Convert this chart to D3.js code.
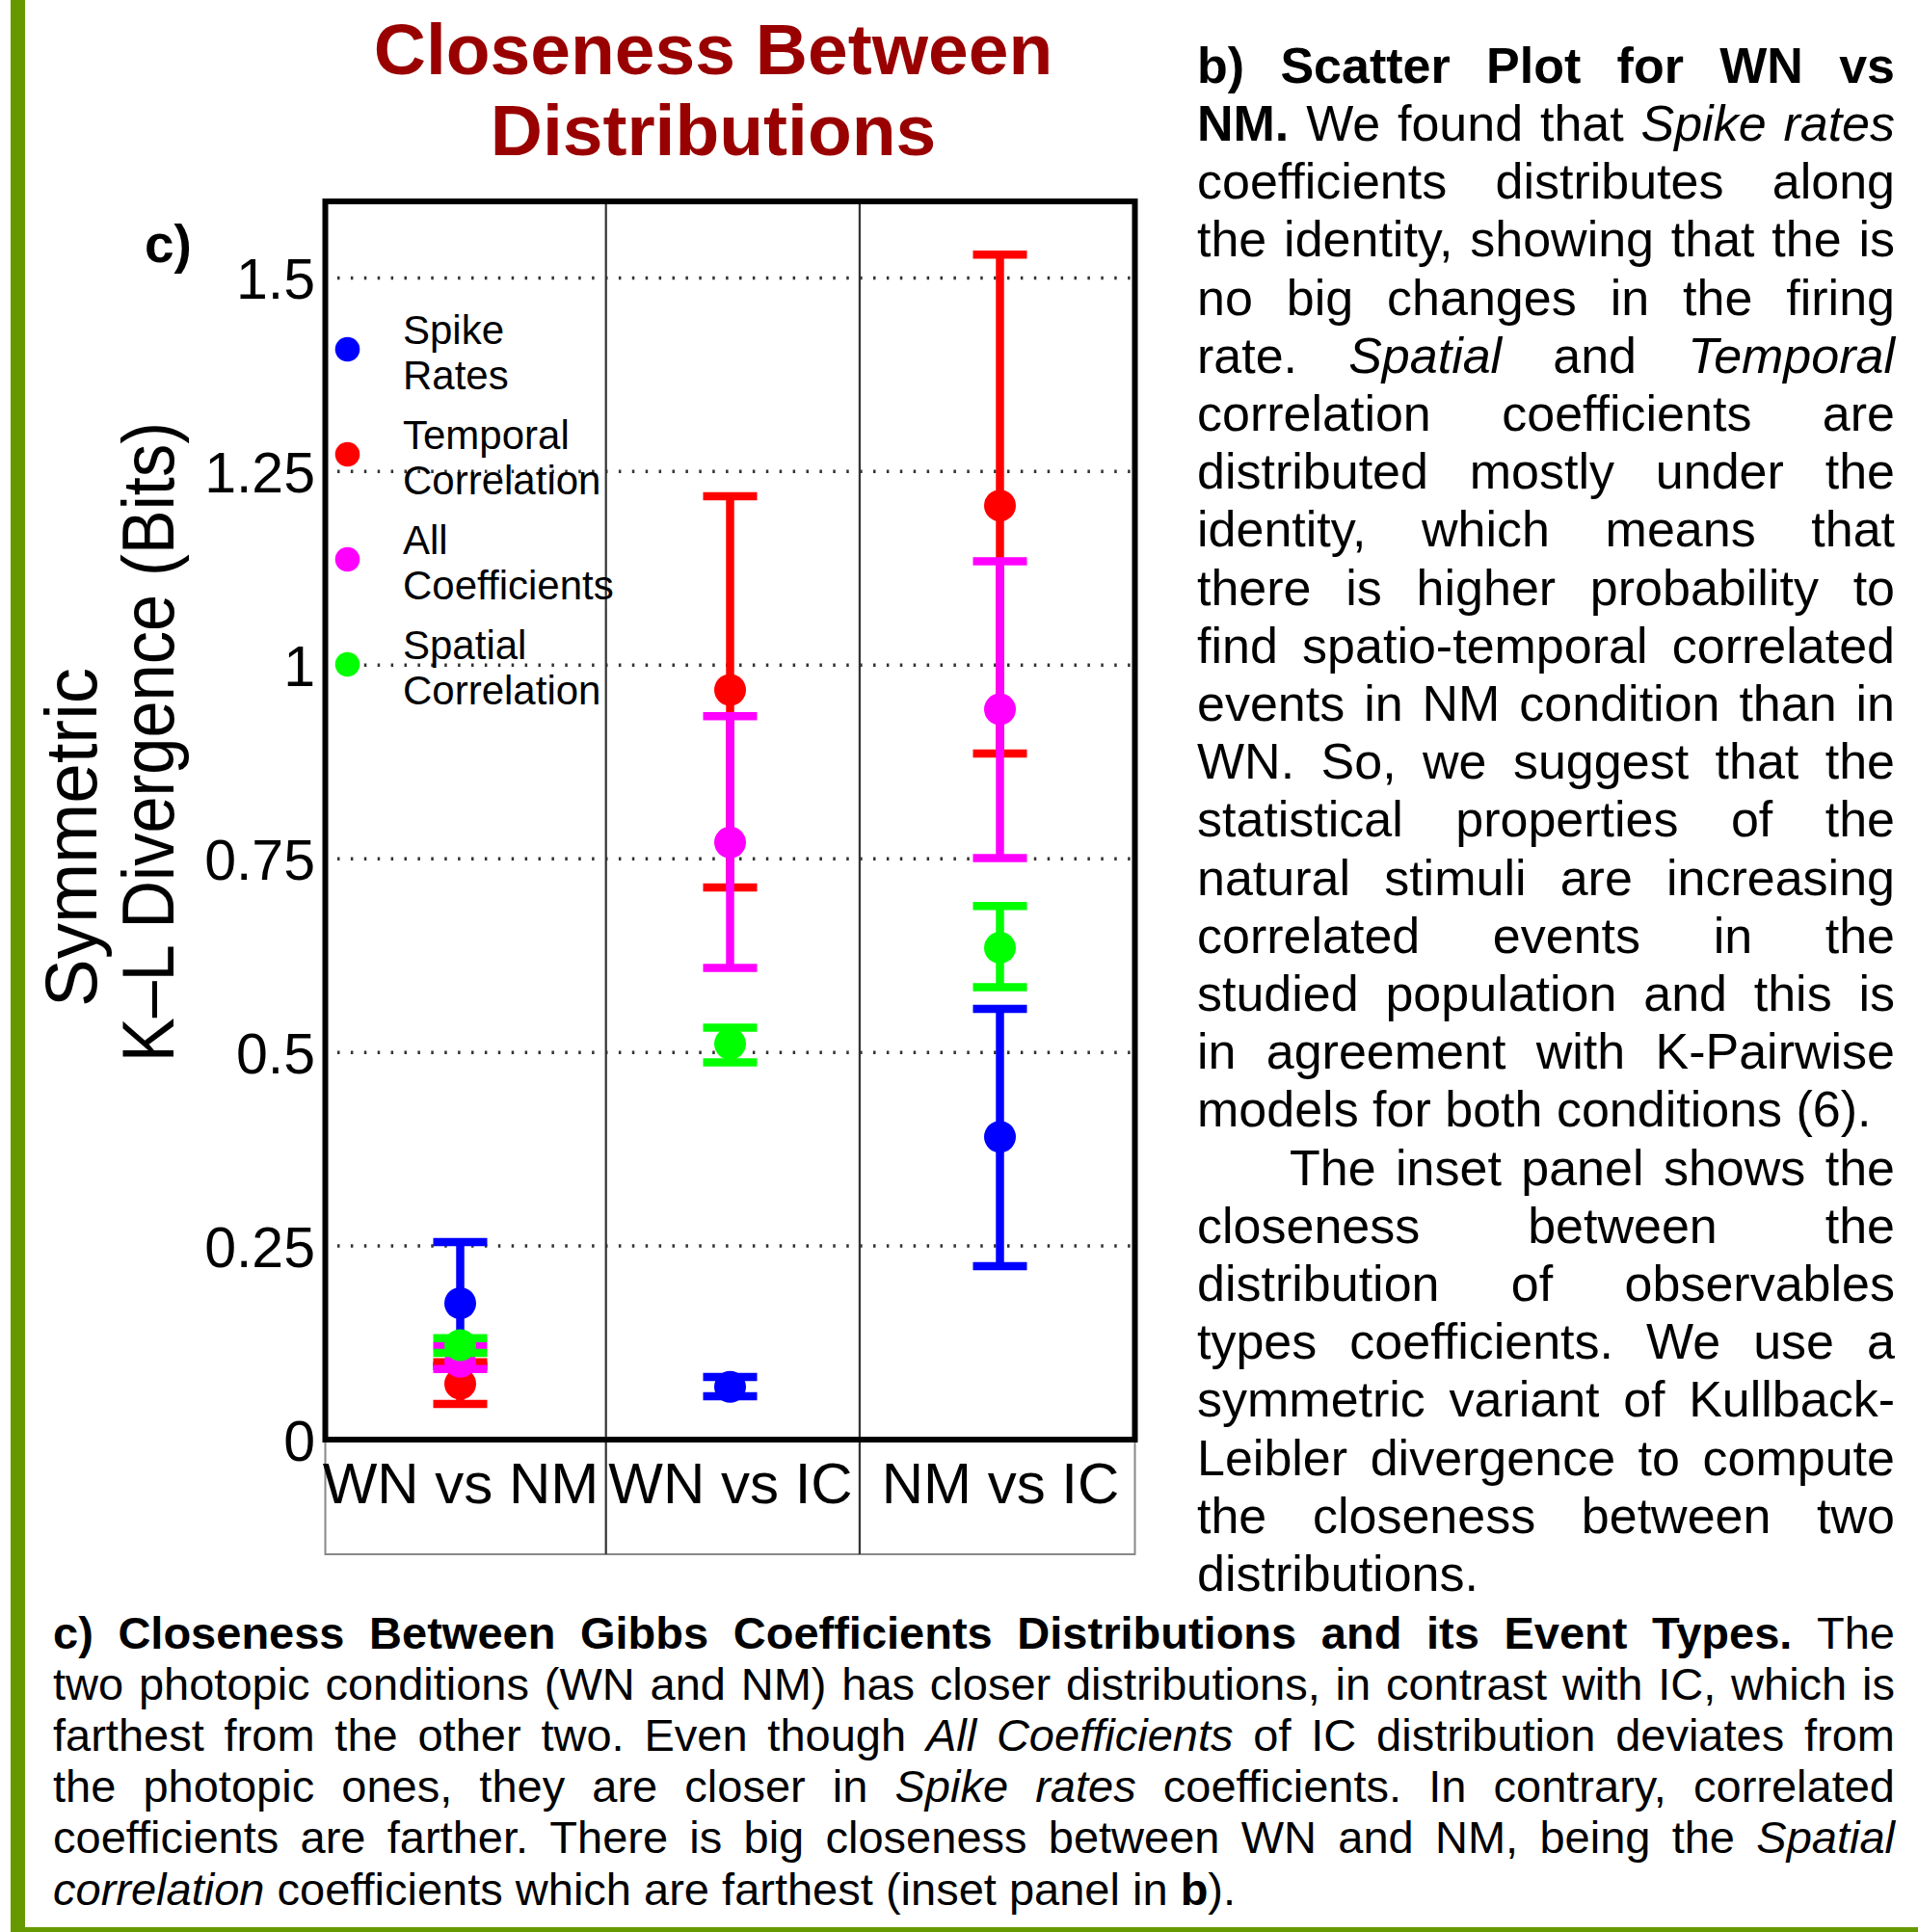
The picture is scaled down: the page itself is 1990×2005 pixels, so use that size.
<!DOCTYPE html>
<html><head><meta charset="utf-8">
<script src="https://cdn.jsdelivr.net/npm/d3@7"></script>
<style>
html,body{margin:0;padding:0;background:#fff;}
svg{display:block;}
text{font-family:"Liberation Sans", Arial, Helvetica, sans-serif;}
</style></head><body>
<script>
// ---------------- data ----------------
const categories = ["WN vs NM", "WN vs IC", "NM vs IC"];
const seriesNames = ["Spike Rates", "Temporal Correlation", "All Coefficients", "Spatial Correlation"];
const legendLines = [["Spike", "Rates"], ["Temporal", "Correlation"], ["All", "Coefficients"], ["Spatial", "Correlation"]];
const seriesColors = ["#0000ff", "#ff0000", "#ff00ff", "#00ff00"];

const spikeMean = [0.176, 0.068, 0.391];
const spikeLow = [0.095, 0.056, 0.224];
const spikeHigh = [0.255, 0.081, 0.556];

const temporalMean = [0.072, 0.968, 1.206];
const temporalLow = [0.046, 0.713, 0.886];
const temporalHigh = [0.100, 1.218, 1.530];

const allMean = [0.1005, 0.771, 0.943];
const allLow = [0.091, 0.609, 0.751];
const allHigh = [0.121, 0.934, 1.134];

const spatialMean = [0.122, 0.511, 0.635];
const spatialLow = [0.112, 0.487, 0.584];
const spatialHigh = [0.131, 0.532, 0.689];

const yTicks = [0, 0.25, 0.5, 0.75, 1, 1.25, 1.5];
const yTickLabels = ["0", "0.25", "0.5", "0.75", "1", "1.25", "1.5"];
const yLabelLines = ["Symmetric", "K\u2013L Divergence (Bits)"];
const titleLines = ["Closeness Between", "Distributions"];
const panelLabel = "c)";
const labelBoxDividers = [1.54, 2.48];

const rightTextLines = [
  "**b) Scatter Plot for WN vs**",
  "**NM.** We found that *Spike rates*",
  "coefficients distributes along",
  "the identity, showing that the is",
  "no big changes in the firing",
  "rate. *Spatial* and *Temporal*",
  "correlation coefficients are",
  "distributed mostly under the",
  "identity, which means that",
  "there is higher probability to",
  "find spatio-temporal correlated",
  "events in NM condition than in",
  "WN. So, we suggest that the",
  "statistical properties of the",
  "natural stimuli are increasing",
  "correlated events in the",
  "studied population and this is",
  "in agreement with K-Pairwise",
  "models for both conditions (6).",
  "The inset panel shows the",
  "closeness between the",
  "distribution of observables",
  "types coefficients. We use a",
  "symmetric variant of Kullback-",
  "Leibler divergence to compute",
  "the closeness between two",
  "distributions."
];
const rightParagraphEnds = [18, 26];
const rightIndented = [19];

const bottomTextLines = [
  "**c) Closeness Between Gibbs Coefficients Distributions and its Event Types.** The",
  "two photopic conditions (WN and NM) has closer distributions, in contrast with IC, which is",
  "farthest from the other two. Even though *All Coefficients* of IC distribution deviates from",
  "the photopic ones, they are closer in *Spike rates* coefficients. In contrary, correlated",
  "coefficients are farther. There is big closeness between WN and NM, being the *Spatial*",
  "*correlation* coefficients which are farthest (inset panel in **b**)."
];
const bottomParagraphEnds = [5];

// ---------------- drawing ----------------
const W = 1990, H = 2005;
const svg = d3.select("body").append("svg").attr("width", W).attr("height", H);
svg.append("rect").attr("width", W).attr("height", H).attr("fill", "#fff");

// page frame (green)
svg.append("rect").attr("x", 11).attr("y", 0).attr("width", 15).attr("height", H).attr("fill", "#669900");
svg.append("rect").attr("x", 11).attr("y", 2000).attr("width", W - 11).attr("height", 5).attr("fill", "#669900");

const x = d3.scaleLinear().domain([0.5, 3.5]).range([337.5, 1177.5]);
const y = d3.scaleLinear().domain([0, 1.6]).range([1494, 208]);

const plotTop = 209, plotBottom = y(0), boxBottom = 1613;

// title
svg.append("g").selectAll("text").data(titleLines).join("text")
  .attr("x", 740).attr("y", (d, i) => 77 + i * 84)
  .attr("text-anchor", "middle").attr("font-size", 75).attr("font-weight", "bold")
  .attr("fill", "#990000").text(d => d);

// panel label
svg.append("text").attr("x", 150).attr("y", 272).attr("font-size", 55)
  .attr("font-weight", "bold").text(panelLabel);

// y label
const yLabCenters = [869, 770];
const yLabLengths = [352, 664];
const yLabBase = [100, 180];
yLabelLines.forEach((t, i) => {
  svg.append("text")
    .attr("transform", `translate(${yLabBase[i]},${yLabCenters[i]}) rotate(-90)`)
    .attr("text-anchor", "middle").attr("font-size", 76)
    .attr("textLength", yLabLengths[i]).attr("lengthAdjust", "spacingAndGlyphs")
    .text(t);
});

// dotted grid
svg.append("g").selectAll("line").data(yTicks.filter(d => d > 0)).join("line")
  .attr("x1", 350).attr("x2", 1174).attr("y1", d => y(d)).attr("y2", d => y(d))
  .attr("stroke", "#333").attr("stroke-width", 3.5).attr("stroke-dasharray", "2.5 11.4");

// label box below axis
const lb = svg.append("g").attr("stroke", "#888").attr("stroke-width", 2).attr("fill", "none");
lb.append("path").attr("d", `M${x.range()[0]},${plotBottom}V${boxBottom}H${x.range()[1]}V${plotBottom}`);
svg.append("g").selectAll("line").data(labelBoxDividers).join("line")
  .attr("x1", d => x(d)).attr("x2", d => x(d)).attr("y1", plotTop).attr("y2", boxBottom)
  .attr("stroke", "#333").attr("stroke-width", 2.2);

// axes (labels only)
const yAxis = d3.axisLeft(y).tickValues(yTicks).tickFormat((d, i) => yTickLabels[i]).tickSize(0).tickPadding(10.5);
const gy = svg.append("g").attr("transform", `translate(${x.range()[0]},0)`).call(yAxis);
gy.select(".domain").remove();
gy.selectAll("text").attr("font-size", 59).attr("font-family", "Liberation Sans, Arial, sans-serif")
  .attr("fill", "#000").attr("dy", "0.36em");

const xAxis = d3.axisBottom(x).tickValues([1, 2, 3]).tickFormat((d, i) => categories[i]).tickSize(0).tickPadding(23.4);
const gx = svg.append("g").attr("transform", `translate(0,${plotBottom})`).call(xAxis);
gx.select(".domain").remove();
gx.selectAll("text").attr("font-size", 60).attr("font-family", "Liberation Sans, Arial, sans-serif")
  .attr("fill", "#000");

// legend
const legendY0 = 362.5, legendStep = 109;
const lg = svg.append("g");
seriesNames.forEach((s, i) => {
  const cy = legendY0 + i * legendStep;
  lg.append("circle").attr("cx", 360.5).attr("cy", cy).attr("r", 12.8).attr("fill", seriesColors[i]);
  legendLines[i].forEach((t, j) => {
    lg.append("text").attr("x", 418).attr("y", cy - 6 + j * 47).attr("font-size", 42).text(t);
  });
});

// error bars
const seriesData = [
  [spikeMean, spikeLow, spikeHigh],
  [temporalMean, temporalLow, temporalHigh],
  [allMean, allLow, allHigh],
  [spatialMean, spatialLow, spatialHigh]
];
const capHalf = 28, barW = 8.5, markR = 16.5;
seriesData.forEach(([m, lo, hi], s) => {
  const g = svg.append("g").attr("class", "series").attr("stroke", seriesColors[s]).attr("fill", seriesColors[s]);
  categories.forEach((c, i) => {
    const cx = x(i + 1);
    g.append("line").attr("x1", cx).attr("x2", cx).attr("y1", y(lo[i])).attr("y2", y(hi[i])).attr("stroke-width", barW);
    [lo[i], hi[i]].forEach(v => {
      g.append("line").attr("x1", cx - capHalf).attr("x2", cx + capHalf).attr("y1", y(v)).attr("y2", y(v)).attr("stroke-width", barW);
    });
    g.append("circle").attr("cx", cx).attr("cy", y(m[i])).attr("r", markR).attr("stroke", "none");
  });
});

// plot frame
svg.append("rect").attr("x", x.range()[0]).attr("y", plotTop)
  .attr("width", x.range()[1] - x.range()[0]).attr("height", plotBottom - plotTop)
  .attr("fill", "none").attr("stroke", "#000").attr("stroke-width", 6);

// ---------------- justified text ----------------
function parsePieces(line) {
  const parts = line.split(/(\*\*.+?\*\*|\*.+?\*)/g).filter(p => p.length);
  return parts.map(p => {
    if (p.startsWith("**")) return { t: p.slice(2, -2), b: true, i: false };
    if (p.startsWith("*")) return { t: p.slice(1, -1), b: false, i: true };
    return { t: p, b: false, i: false };
  });
}
function toWords(pieces) {
  const words = [];
  let cur = [];
  pieces.forEach(p => {
    const chunks = p.t.split(" ");
    chunks.forEach((ch, k) => {
      if (k > 0) { if (cur.length) words.push(cur); cur = []; }
      if (ch.length) cur.push({ t: ch, b: p.b, i: p.i });
    });
  });
  if (cur.length) words.push(cur);
  return words;
}
function drawLines(lines, o) {
  const meas = svg.append("text").attr("font-size", o.fontSize).attr("visibility", "hidden");
  const measure = p => {
    meas.attr("font-weight", p.b ? "bold" : "normal").attr("font-style", p.i ? "italic" : "normal").text(p.t);
    return meas.node().getComputedTextLength();
  };
  const spaceW = 0.278 * o.fontSize;
  lines.forEach((ln, li) => {
    const words = toWords(parsePieces(ln));
    const widths = words.map(w => w.map(measure));
    const wordW = widths.map(a => d3.sum(a));
    const xs = o.x0 + (o.indented.includes(li) ? o.indent : 0);
    let gap = spaceW;
    if (!o.ends.includes(li) && words.length > 1) gap = (o.x1 - xs - d3.sum(wordW)) / (words.length - 1);
    const t = svg.append("text").attr("font-size", o.fontSize).attr("y", o.base0 + li * o.step).attr("fill", "#000");
    let cx = xs;
    words.forEach((w, wi) => {
      let px = cx;
      w.forEach((p, pi) => {
        t.append("tspan").attr("x", px)
          .attr("font-weight", p.b ? "bold" : "normal").attr("font-style", p.i ? "italic" : "normal").text(p.t);
        px += widths[wi][pi];
      });
      cx += wordW[wi] + gap;
    });
  });
  meas.remove();
}
drawLines(rightTextLines, { x0: 1242, x1: 1966, base0: 85.7, step: 60.2, fontSize: 52, ends: rightParagraphEnds, indented: rightIndented, indent: 96 });
drawLines(bottomTextLines, { x0: 55, x1: 1966, base0: 1711, step: 53.1, fontSize: 47, ends: bottomParagraphEnds, indented: [], indent: 0 });
</script>
</body></html>
